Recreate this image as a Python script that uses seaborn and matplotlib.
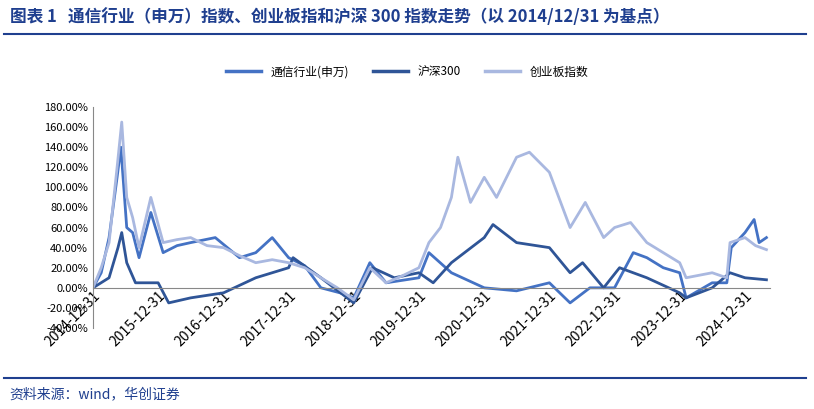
import matplotlib
matplotlib.use("Agg")
import matplotlib.pyplot as plt
import seaborn as sns
import pandas as pd
import numpy as np
from matplotlib.lines import Line2D

plt.rcParams['font.family'] = ['Noto Sans CJK SC', 'DejaVu Sans']

cyb_dates = ["2014-12-31","2015-02-15","2015-03-31","2015-05-15","2015-06-10","2015-07-08","2015-08-10","2015-09-15","2015-11-20","2016-01-28","2016-04-15","2016-06-30","2016-09-30","2016-12-31","2017-03-31","2017-06-30","2017-09-30","2017-12-31","2018-03-31","2018-06-30","2018-09-30","2018-12-31","2019-03-31","2019-06-30","2019-09-30","2019-12-31","2020-02-25","2020-04-30","2020-06-30","2020-08-05","2020-10-15","2020-12-31","2021-03-10","2021-06-30","2021-09-10","2021-12-31","2022-04-26","2022-07-20","2022-10-31","2022-12-31","2023-03-31","2023-06-30","2023-09-30","2023-12-31","2024-02-05","2024-06-30","2024-09-20","2024-10-08","2024-12-31","2025-02-28","2025-04-30"]
cyb_vals = [0,20,45,120,165,90,70,40,90,45,48,50,42,40,32,25,28,25,20,10,0,-12,20,5,12,20,45,60,90,130,85,110,90,130,135,115,60,85,50,60,65,45,35,25,10,15,10,45,50,42,38]

tel_dates = ["2014-12-31","2015-02-15","2015-03-31","2015-05-15","2015-06-05","2015-07-08","2015-08-10","2015-09-15","2015-11-20","2016-01-28","2016-04-15","2016-06-30","2016-11-15","2017-03-31","2017-06-30","2017-09-30","2017-12-31","2018-03-31","2018-06-30","2018-10-15","2018-12-31","2019-03-31","2019-06-30","2019-12-31","2020-02-25","2020-06-30","2020-12-31","2021-06-30","2021-12-31","2022-04-26","2022-08-15","2022-12-31","2023-04-15","2023-06-30","2023-09-30","2023-12-31","2024-02-05","2024-06-30","2024-09-20","2024-10-15","2024-12-31","2025-02-20","2025-03-20","2025-04-30"]
tel_vals = [0,15,50,110,140,60,55,30,75,35,42,45,50,30,35,50,30,22,0,-5,-10,25,5,10,35,15,0,-3,5,-15,0,0,35,30,20,15,-10,5,5,40,55,68,45,50]

hs_dates = ["2014-12-31","2015-03-31","2015-05-20","2015-06-10","2015-07-08","2015-08-26","2015-12-31","2016-02-28","2016-06-30","2016-12-31","2017-06-30","2017-12-31","2018-01-25","2018-06-30","2018-12-31","2019-04-15","2019-08-15","2019-12-31","2020-03-20","2020-06-30","2020-12-31","2021-02-18","2021-06-30","2021-12-31","2022-04-26","2022-07-05","2022-10-31","2023-01-28","2023-06-30","2023-12-31","2024-02-05","2024-06-30","2024-10-08","2024-12-31","2025-04-30"]
hs_vals = [0,10,40,55,25,5,5,-15,-10,-5,10,20,30,10,-15,20,10,15,5,25,50,63,45,40,15,25,0,20,10,-5,-10,0,15,10,8]

frames = []
for name, d, v in [("通信行业(申万)", tel_dates, tel_vals), ("沪深300", hs_dates, hs_vals), ("创业板指数", cyb_dates, cyb_vals)]:
    frames.append(pd.DataFrame({"date": pd.to_datetime(d), "value": v, "series": name}))
df = pd.concat(frames)

fig = plt.figure(figsize=(8.14, 4.09), dpi=100)
ax = fig.add_axes([93/814, 1-328/409, (770-93)/814, 221/409])
palette = {"通信行业(申万)": "#4472C4", "沪深300": "#2F5597", "创业板指数": "#A9B8E0"}
sns.lineplot(data=df, x="date", y="value", hue="series", palette=palette, ax=ax, linewidth=2, legend=False)

ax.set_ylim(-40, 180)
ax.set_yticks(np.arange(-40, 181, 20))
ax.set_yticklabels([f"{v:.2f}%" for v in np.arange(-40, 181, 20)], fontsize=8)
ax.set_xlim(pd.Timestamp("2014-12-31"), pd.Timestamp("2025-05-20"))
ticks = pd.to_datetime([f"{y}-12-31" for y in range(2014, 2025)])
ax.set_xticks(ticks)
ax.set_xticklabels([t.strftime("%Y-%m-%d") for t in ticks], fontsize=8)
ax.spines['top'].set_visible(False)
ax.spines['right'].set_visible(False)
ax.spines['bottom'].set_position(('data', 0))
ax.spines['bottom'].set_color('#888888')
ax.spines['left'].set_color('#888888')
ax.tick_params(axis='x', length=0, pad=1)
ax.tick_params(axis='y', length=0)
ax.set_xlabel(""); ax.set_ylabel("")
for lab in ax.get_xticklabels():
    lab.set_rotation(45)
    lab.set_ha("right")
    lab.set_rotation_mode("anchor")

handles = [Line2D([], [], color=palette[k], lw=2.5) for k in palette]
fig.legend(handles, list(palette), loc="center", bbox_to_anchor=(0.5, 1-72/409), ncol=3, frameon=False, fontsize=8.5, handlelength=3)

fig.text(0.012, 1-17/409, "图表 1   通信行业（申万）指数、创业板指和沪深 300 指数走势（以 2014/12/31 为基点）", fontsize=12, fontweight="bold", color="#1F3F8F", va="center")
fig.add_artist(Line2D([0.005, 0.99], [1-34/409]*2, color="#1F3F8F", lw=1.5))
fig.add_artist(Line2D([0.005, 0.99], [1-378/409]*2, color="#1F3F8F", lw=1.5))
fig.text(0.012, 1-394/409, "资料来源：wind，华创证券", fontsize=10, style="italic", color="#1F3F8F", va="center")

fig.savefig("out.png", dpi=100)
